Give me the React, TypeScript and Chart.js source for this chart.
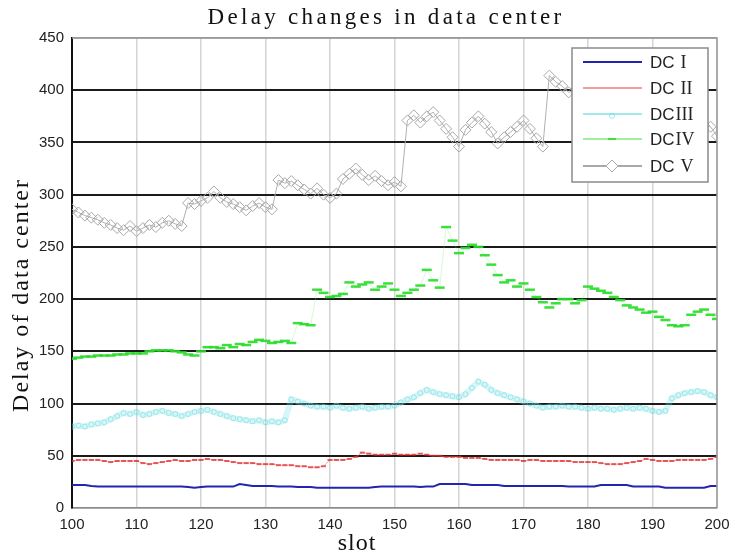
import React, { useEffect, useRef } from "react";
import { Chart, registerables } from "chart.js";

Chart.register(...registerables);

const slots: number[] = Array.from({ length: 101 }, (_, i) => 100 + i);

const seriesNames = ["DC I", "DC II", "DCIII", "DCIV", "DC V"];

const dc1 = [
  22, 22, 22, 21, 20.5, 20.5, 20.5, 20.5, 20.5, 20.5, 20.5, 20.5, 20.5, 20.5, 20.5, 20.5, 20.5, 20.5, 20, 19.5,
  20, 20.5, 20.5, 20.5, 20.5, 20.5, 23, 22, 21, 21, 21, 21, 20.5, 20.5, 20.5, 20, 20, 20, 19.5, 19.5,
  19.5, 19.5, 19.5, 19.5, 19.5, 19.5, 19.5, 20, 20.5, 20.5, 20.5, 20.5, 20.5, 20.5, 20, 20.5, 20.5, 23, 23, 23,
  23, 23, 22, 22, 22, 22, 22, 21, 21, 21, 21, 21, 21, 21, 21, 21, 21, 20.5, 20.5, 20.5, 20.5,
  20.5, 22, 22, 22, 22, 22, 20.5, 20.5, 20.5, 20.5, 20.5, 19.5, 19.5, 19.5, 19.5, 19.5, 19.5, 19.5, 21, 21,
];

const dc2 = [
  45, 46, 46, 46, 46, 45, 44, 45, 45, 45, 45, 43, 42, 43, 44, 45, 46, 45, 45, 46,
  46, 47, 46, 46, 45, 44, 43, 43, 43, 42, 42, 42, 41, 41, 41, 40, 40, 39, 39, 40,
  46, 46, 46, 47, 49, 53, 52, 51, 51, 51, 52, 51, 51, 51, 52, 51, 50, 50, 49, 49,
  49, 48, 48, 48, 47, 46, 46, 46, 46, 46, 45, 46, 46, 45, 45, 45, 45, 45, 44, 44,
  44, 44, 43, 42, 42, 42, 43, 44, 45, 47, 46, 45, 45, 45, 46, 46, 46, 46, 46, 47, 49,
];

const dc3 = [
  78, 79, 78, 80, 81, 82, 85, 88, 91, 90, 92, 89, 90, 92, 93, 91, 90, 88, 90, 92,
  93, 94, 92, 90, 88, 86, 85, 84, 83, 84, 82, 83, 82, 84, 104, 102, 100, 98, 97, 97,
  96, 98, 96, 95, 96, 97, 95, 96, 97, 97, 98, 101, 104, 106, 110, 113, 111, 109, 108, 107,
  106, 109, 115, 121, 118, 113, 110, 108, 106, 104, 102, 100, 98, 96, 97, 97, 98, 97, 97, 96,
  95, 96, 95, 95, 94, 95, 96, 95, 96, 95, 93, 92, 93, 105, 108, 110, 111, 112, 111, 108, 106,
];

const dc4 = [
  143, 144, 145, 145, 146, 146, 146, 147, 147, 148, 148, 148, 150, 151, 151, 151, 150, 149, 147, 146,
  150, 154, 154, 153, 156, 154, 157, 156, 159, 161, 160, 158, 159, 160, 158, 177, 176, 175, 209, 206,
  202, 203, 205, 216, 212, 214, 216, 209, 212, 215, 209, 203, 206, 209, 213, 228, 218, 211, 269, 256,
  244, 249, 252, 250, 242, 233, 223, 216, 218, 212, 215, 209, 202, 197, 192, 196, 200, 200, 196, 199,
  212, 210, 208, 206, 202, 199, 194, 192, 190, 187, 188, 183, 180, 175, 174, 175, 185, 188, 190, 185, 181,
];

const dc5 = [
  286, 283, 280, 278, 276, 273, 271, 268, 266, 270, 265, 268, 271, 269, 273, 275, 272, 270, 292, 291,
  294, 297, 303, 297, 293, 291, 288, 285, 289, 292, 288, 286, 314, 311, 313, 309, 305, 301, 306, 300,
  297, 301, 315, 320, 325, 319, 314, 318, 313, 309, 312, 308, 371, 376, 369, 375, 379, 371, 363, 355,
  346, 362, 369, 375, 368, 360, 349, 355, 360, 365, 371, 363, 354, 346, 414, 408, 404, 398, 400, 404,
  396, 390, 393, 387, 382, 386, 380, 376, 380, 374, 370, 373, 368, 372, 366, 362, 368, 364, 366, 365, 356,
];

const yTicks = [0, 50, 100, 150, 200, 250, 300, 350, 400, 450];
const xTicks = [100, 110, 120, 130, 140, 150, 160, 170, 180, 190, 200];

const toXY = (vals: number[]) => slots.map((s, i) => ({ x: s, y: vals[i] }));

const chromePlugin = {
  id: "chrome",
  afterDraw(chart: any) {
    const ctx = chart.ctx as CanvasRenderingContext2D;
    const a = chart.chartArea;
    ctx.save();
    ctx.strokeStyle = "#9a9a9a";
    ctx.lineWidth = 1.5;
    ctx.beginPath();
    ctx.moveTo(a.left, a.top);
    ctx.lineTo(a.right, a.top);
    ctx.lineTo(a.right, a.bottom);
    ctx.stroke();

    // Legend box
    const bx = 572, by = 48, bw = 136, bh = 134;
    ctx.fillStyle = "#ffffff";
    ctx.fillRect(bx, by, bw, bh);
    ctx.strokeStyle = "#8a8a8a";
    ctx.lineWidth = 1.5;
    ctx.strokeRect(bx, by, bw, bh);
    const rows = [62, 88, 114, 139, 166];
    chart.data.datasets.forEach((ds: any, i: number) => {
      const y = rows[i];
      ctx.strokeStyle = ds.borderColorLegend || ds.borderColor;
      ctx.lineWidth = i === 0 ? 2 : 1.2;
      ctx.setLineDash([]);
      ctx.beginPath();
      ctx.moveTo(583, y);
      ctx.lineTo(642, y);
      ctx.stroke();
      if (i === 4) {
        ctx.strokeStyle = "#aaaaaa";
        ctx.lineWidth = 1;
        ctx.fillStyle = "#fff";
        ctx.beginPath();
        ctx.moveTo(612, y - 6);
        ctx.lineTo(618, y);
        ctx.lineTo(612, y + 6);
        ctx.lineTo(606, y);
        ctx.closePath();
        ctx.fill();
        ctx.stroke();
      } else if (i === 3) {
        ctx.strokeStyle = "#40e040";
        ctx.lineWidth = 2;
        ctx.beginPath();
        ctx.moveTo(608, y);
        ctx.lineTo(616, y);
        ctx.stroke();
      } else if (i === 2) {
        ctx.strokeStyle = "rgba(64,210,220,0.5)";
        ctx.lineWidth = 1;
        ctx.beginPath();
        ctx.arc(612, y + 2, 2.5, 0, Math.PI * 2);
        ctx.stroke();
      }
      const name: string = seriesNames[i];
      const rest = name.slice(2).trim();
      ctx.fillStyle = "#222";
      ctx.textBaseline = "middle";
      ctx.textAlign = "left";
      ctx.font = '17px "Liberation Sans"';
      ctx.fillText("DC", 650, y + 1);
      const w = ctx.measureText("DC").width;
      ctx.font = '18px "Liberation Serif"';
      ctx.fillText(rest, 650 + w + (name.charAt(2) === " " ? 6 : 1), y + 1);
    });

    // Titles
    ctx.fillStyle = "#111";
    ctx.textAlign = "center";
    ctx.textBaseline = "middle";
    ctx.font = '23px "Liberation Serif"';
    (ctx as any).letterSpacing = "3.3px";
    ctx.fillText("Delay changes in data center", 386, 18);
    (ctx as any).letterSpacing = "1px";
    ctx.font = '24px "Liberation Serif"';
    ctx.fillText("slot", 357, 544);
    ctx.translate(22, 295);
    ctx.rotate(-Math.PI / 2);
    (ctx as any).letterSpacing = "2px";
    ctx.font = '24px "Liberation Serif"';
    ctx.fillText("Delay of data center", 0, 0);
    ctx.restore();
  },
};

export default function App() {
  const ref = useRef<HTMLCanvasElement | null>(null);
  useEffect(() => {
    document.body.style.margin = "0";
    const canvas = ref.current!;
    const chart = new Chart(canvas, {
      type: "line",
      data: {
        datasets: [
          {
            label: seriesNames[0],
            data: toXY(dc1),
            borderColor: "#2424b0",
            borderWidth: 2,
            pointRadius: 0,
            tension: 0,
          },
          {
            label: seriesNames[1],
            data: toXY(dc2),
            borderColor: "rgba(235,120,120,0.6)",
            borderColorLegend: "#e04040",
            borderWidth: 1,
            pointStyle: "line",
            pointRadius: 2.5,
            pointBorderColor: "rgba(225,30,30,0.7)",
            pointBorderWidth: 2,
            tension: 0,
          } as any,
          {
            label: seriesNames[2],
            data: toXY(dc3),
            borderColor: "rgba(120,225,230,0.3)",
            borderColorLegend: "#40d8e0",
            borderWidth: 6,
            pointStyle: "circle",
            pointRadius: 2.5,
            pointBorderColor: "rgba(80,210,220,0.45)",
            pointBackgroundColor: "rgba(255,255,255,0)",
            pointBorderWidth: 1,
            tension: 0,
          } as any,
          {
            label: seriesNames[3],
            data: toXY(dc4),
            borderColor: "rgba(120,235,120,0.3)",
            borderColorLegend: "#40e040",
            borderWidth: 1,
            pointStyle: "line",
            pointRadius: 5,
            pointBorderColor: "rgba(40,220,40,0.9)",
            pointBorderWidth: 2.5,
            tension: 0,
          } as any,
          {
            label: seriesNames[4],
            data: toXY(dc5),
            borderColor: "#b0b0b0",
            borderColorLegend: "#555",
            borderWidth: 1,
            pointStyle: "rectRot",
            pointRadius: 5.5,
            pointBorderColor: "#a8a8a8",
            pointBackgroundColor: "rgba(255,255,255,0)",
            pointBorderWidth: 1,
            tension: 0,
          } as any,
        ],
      },
      options: {
        animation: false,
        responsive: false,
        maintainAspectRatio: false,
        layout: { padding: { top: 38, right: 17, left: 0, bottom: 0 } },
        plugins: {
          legend: { display: false },
          title: { display: false },
          tooltip: { enabled: false },
        },
        scales: {
          x: {
            type: "linear",
            min: 100,
            max: 200,
            afterFit: (s: any) => {
              s.height = 48;
              s.paddingRight = 0;
              s.paddingLeft = 0;
            },
            afterBuildTicks: (s: any) => {
              s.ticks = xTicks.map((v) => ({ value: v }));
            },
            ticks: {
              padding: 8,
              color: "#222",
              font: { family: "Liberation Sans", size: 15 },
              maxRotation: 0,
            },
            grid: {
              color: "#d4d4d4",
              lineWidth: 1.5,
              drawTicks: false,
            },
            border: { color: "#8a8a8a", width: 1.5 },
          },
          y: {
            min: 0,
            max: 450,
            afterFit: (s: any) => {
              s.width = 72;
              s.paddingTop = 0;
              s.paddingBottom = 0;
            },
            afterBuildTicks: (s: any) => {
              s.ticks = yTicks.map((v) => ({ value: v }));
            },
            ticks: {
              padding: 8,
              color: "#222",
              font: { family: "Liberation Sans", size: 15 },
            },
            grid: {
              color: (c: any) => (c.tick && (c.tick.value === 450 || c.tick.value === 0) ? "#9a9a9a" : "#1a1a1a"),
              lineWidth: (c: any) => (c.tick && (c.tick.value === 450 || c.tick.value === 0) ? 1.5 : 2),
              drawTicks: false,
            },
            border: { color: "#111", width: 2 },
          },
        },
      } as any,
      plugins: [chromePlugin],
    });
    return () => chart.destroy();
  }, []);
  return <canvas ref={ref} width={734} height={556} style={{ display: "block" }} />;
}
